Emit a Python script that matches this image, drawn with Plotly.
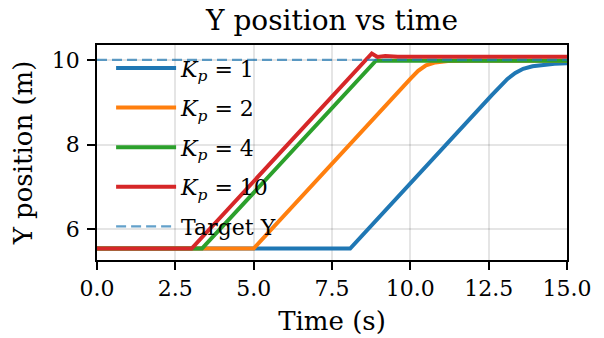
import plotly.graph_objects as go

# ---- data ----
t_kp1 = [0, 8.08, 12.6, 12.9, 13.1, 13.35, 13.6, 13.9, 14.2, 14.6, 15.0]
y_kp1 = [5.55, 5.55, 9.17, 9.40, 9.55, 9.69, 9.79, 9.85, 9.88, 9.91, 9.92]

t_kp2 = [0, 5.0, 10.0, 10.25, 10.5, 10.8, 11.2, 12.0, 15.0]
y_kp2 = [5.55, 5.55, 9.55, 9.74, 9.87, 9.94, 9.97, 9.98, 9.98]

t_kp4 = [0, 3.35, 8.9, 9.2, 15.0]
y_kp4 = [5.55, 5.55, 9.98, 9.98, 9.98]

t_kp10 = [0, 3.02, 8.77, 8.95, 9.2, 9.6, 15.0]
y_kp10 = [5.55, 5.55, 10.15, 10.07, 10.09, 10.07, 10.07]

t_target = [0, 15]
y_target = [10, 10]

labels = ["<i>K</i><sub><i>p</i></sub> = 1", "<i>K</i><sub><i>p</i></sub> = 2",
          "<i>K</i><sub><i>p</i></sub> = 4", "<i>K</i><sub><i>p</i></sub> = 10", "Target Y"]
colors = ["#1f77b4", "#ff7f0e", "#2ca02c", "#d62728"]

x_ticks = [0, 2.5, 5, 7.5, 10, 12.5, 15]
x_ticktext = ["0.0", "2.5", "5.0", "7.5", "10.0", "12.5", "15.0"]
y_ticks = [6, 8, 10]

FONT = "DejaVu Serif"

fig = go.Figure()
series = [(t_kp1, y_kp1), (t_kp2, y_kp2), (t_kp4, y_kp4), (t_kp10, y_kp10)]
for i, (t, y) in enumerate(series):
    fig.add_trace(go.Scatter(x=t, y=y, mode="lines", name=labels[i],
                             legendgroup=f"g{i}",
                             line=dict(color=colors[i], width=4)))
fig.add_trace(go.Scatter(x=t_target, y=y_target, mode="lines", name=labels[4],
                         legendgroup="g4",
                         line=dict(color="rgba(31,119,180,0.7)", width=2.2, dash="10px,5px")))

axis_common = dict(showline=True, mirror=True, linecolor="black", linewidth=1.7,
                   ticks="outside", ticklen=8, tickwidth=1.5, tickcolor="black",
                   showgrid=True, gridcolor="rgba(0,0,0,0.1)", gridwidth=1.5,
                   zeroline=False, automargin=False,
                   tickfont=dict(family=FONT, size=22, color="black"))

fig.update_layout(
    width=604, height=338,
    margin=dict(l=97, r=37, t=45, b=78),
    paper_bgcolor="white", plot_bgcolor="white",
    font=dict(family=FONT, color="black"),
    title=dict(text="Y position vs time", x=0.5, xanchor="center", xref="paper",
               y=1 - 20 / 338, yanchor="middle",
               font=dict(family=FONT, size=28, color="black")),
    xaxis=dict(range=[0, 15], tickvals=x_ticks, ticktext=x_ticktext,
               title=dict(text="Time (s)", font=dict(family=FONT, size=26), standoff=12),
               **axis_common),
    yaxis=dict(range=[5.28, 10.35], tickvals=y_ticks, ticklabelstandoff=3,
               title=dict(text="Y position (m)", font=dict(family=FONT, size=26), standoff=12),
               **axis_common),
    legend=dict(x=0.03, y=0.99, xanchor="left", yanchor="top",
                bgcolor="rgba(0,0,0,0)", font=dict(family=FONT, size=22),
                itemwidth=60, tracegroupgap=8),
)

fig.write_html("out.html", config={"displayModeBar": False},
               post_script="document.body.style.margin='0';document.body.style.padding='0';")
